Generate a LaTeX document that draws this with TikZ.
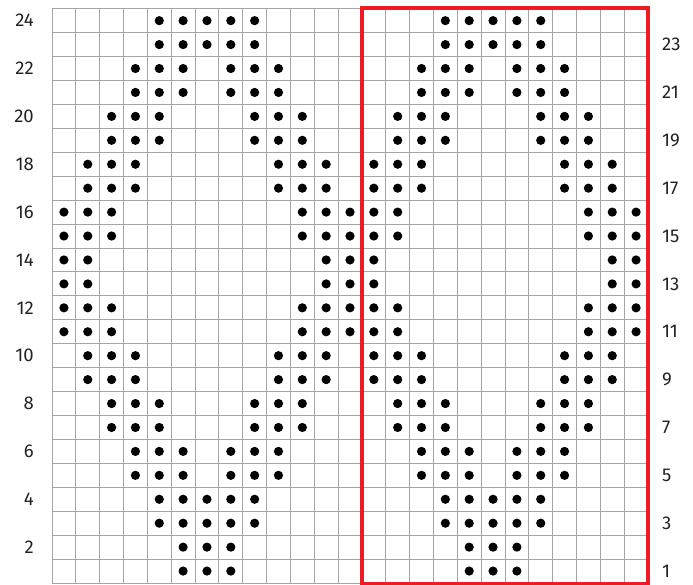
\documentclass[tikz,border=0pt]{standalone}
\usepackage{fontspec}
\setmainfont{Fira Sans}
\definecolor{gridgray}{RGB}{165,165,165}
\definecolor{chartred}{RGB}{237,28,36}
\definecolor{labelcol}{RGB}{35,35,35}
\begin{document}
\begin{tikzpicture}[x=1pt,y=-1pt,
  gridline/.style={draw=gridgray,line width=0.9pt},
  repeatbox/.style={draw=chartred,line width=3.6pt},
  stitch/.style={fill=black},
  rowlabel/.style={font=\fontsize{18.5}{18.5}\selectfont,text=labelcol,inner sep=0pt}]
\useasboundingbox (0,0) rectangle (693,585);
\def\gx{52}\def\gy{8.7}\def\cw{23.84}\def\ch{23.93}
% grid
\foreach \i in {0,...,25} \draw[gridline] ({\gx+\i*\cw},\gy) -- ({\gx+\i*\cw},{\gy+24*\ch});
\foreach \j in {0,...,24} \draw[gridline] (\gx,{\gy+\j*\ch}) -- ({\gx+25*\cw},{\gy+\j*\ch});
% stitches
\foreach \r/\cols in {
  24/{5,6,7,8,9,17,18,19,20,21},
  23/{5,6,7,8,9,17,18,19,20,21},
  22/{4,5,6,8,9,10,16,17,18,20,21,22},
  21/{4,5,6,8,9,10,16,17,18,20,21,22},
  20/{3,4,5,9,10,11,15,16,17,21,22,23},
  19/{3,4,5,9,10,11,15,16,17,21,22,23},
  18/{2,3,4,10,11,12,14,15,16,22,23,24},
  17/{2,3,4,10,11,12,14,15,16,22,23,24},
  16/{1,2,3,11,12,13,14,15,23,24,25},
  15/{1,2,3,11,12,13,14,15,23,24,25},
  14/{1,2,12,13,14,24,25},
  13/{1,2,12,13,14,24,25},
  12/{1,2,3,11,12,13,14,15,23,24,25},
  11/{1,2,3,11,12,13,14,15,23,24,25},
  10/{2,3,4,10,11,12,14,15,16,22,23,24},
  9/{2,3,4,10,11,12,14,15,16,22,23,24},
  8/{3,4,5,9,10,11,15,16,17,21,22,23},
  7/{3,4,5,9,10,11,15,16,17,21,22,23},
  6/{4,5,6,8,9,10,16,17,18,20,21,22},
  5/{4,5,6,8,9,10,16,17,18,20,21,22},
  4/{5,6,7,8,9,17,18,19,20,21},
  3/{5,6,7,8,9,17,18,19,20,21},
  2/{6,7,8,18,19,20},
  1/{6,7,8,18,19,20}}
  \foreach \c in \cols
    \fill[stitch] ({\gx+(\c-0.5)*\cw},{\gy+(24-\r+0.5)*\ch}) circle (4.6);
% repeat box
\draw[repeatbox] ({\gx+13*\cw},{\gy-0.5}) rectangle ({\gx+25*\cw},{\gy+24*\ch+0.5});
% row labels
\foreach \r in {24,22,...,2}
  \node[rowlabel,anchor=east] (L\r) at (34,{\gy+(24-\r+0.5)*\ch}) {\r};
\foreach \r in {23,21,...,1}
  \node[rowlabel,anchor=west] (R\r) at (662,{\gy+(24-\r+0.5)*\ch}) {\r};
\end{tikzpicture}
\end{document}
